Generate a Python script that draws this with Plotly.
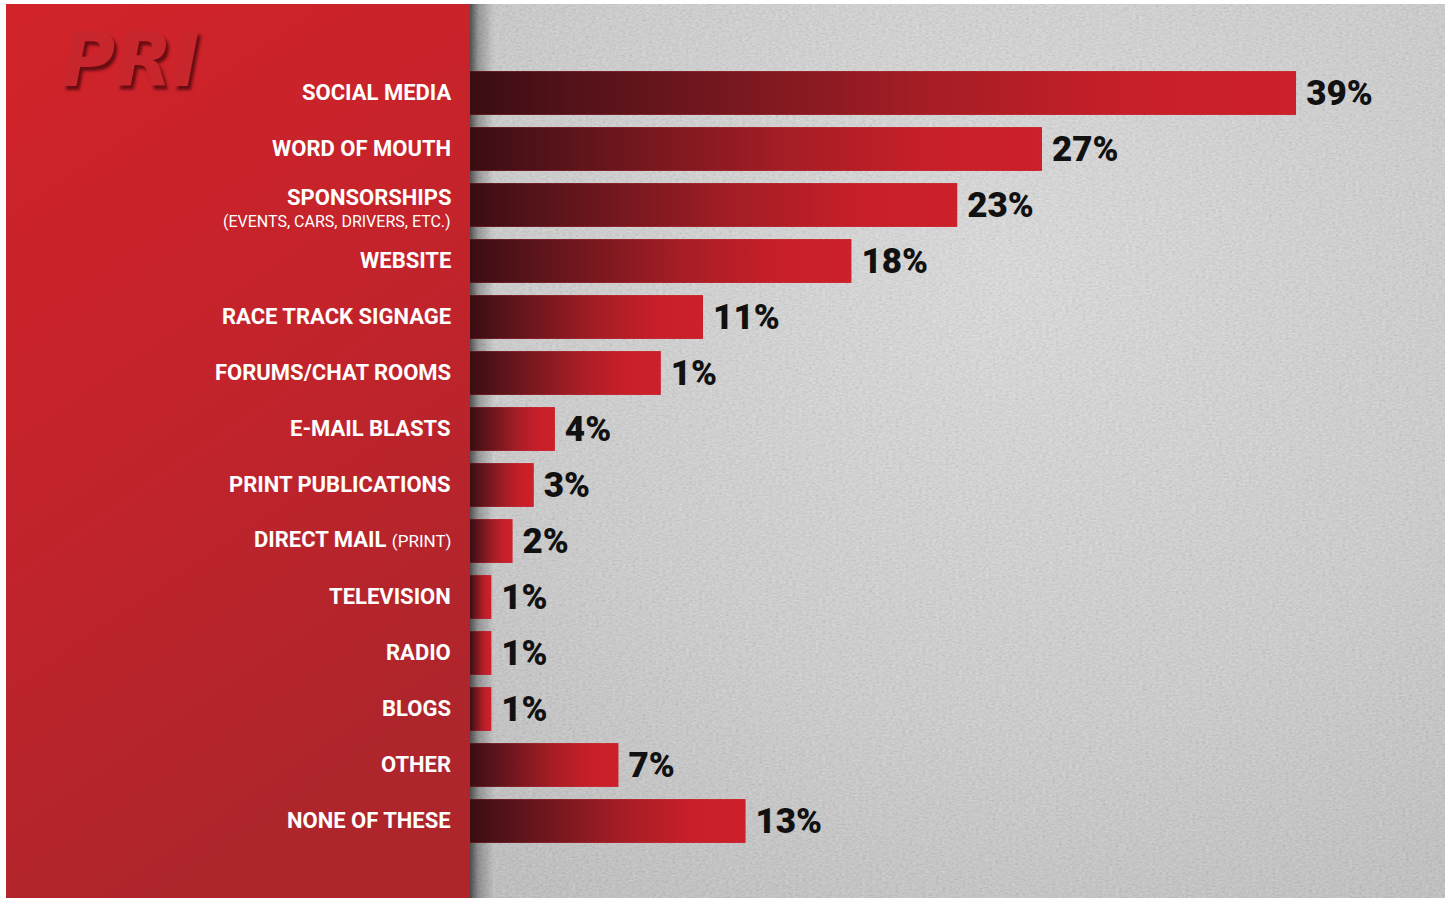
import base64
import plotly.graph_objects as go

# ---------------- data ----------------
categories = ["SOCIAL MEDIA", "WORD OF MOUTH", "SPONSORSHIPS", "WEBSITE",
              "RACE TRACK SIGNAGE", "FORUMS/CHAT ROOMS", "E-MAIL BLASTS",
              "PRINT PUBLICATIONS", "DIRECT MAIL", "TELEVISION", "RADIO",
              "BLOGS", "OTHER", "NONE OF THESE"]
sublabels = ["", "", "(EVENTS, CARS, DRIVERS, ETC.)", "", "", "", "", "", "(PRINT)",
             "", "", "", "", ""]
values = [39, 27, 23, 18, 11, 9, 4, 3, 2, 1, 1, 1, 7, 13]
value_labels = ["39%", "27%", "23%", "18%", "11%", "1%", "4%", "3%", "2%",
                "1%", "1%", "1%", "7%", "13%"]

# ---------------- styling ----------------
W, H = 1449, 900
L, R, T, B = 470, 4, 4, 2
plot_w = W - L - R
plot_h = H - T - B
px_per_unit = 21.18
xmax = plot_w / px_per_unit
step = 56.0
first_center = 93
last_center = 821
n = len(categories)
y_top = -(first_center - T) / step
y_bot = (n - 1) + (H - B - last_center) / step
bar_w = 0.78

FONT = "Roboto, Liberation Sans, sans-serif"
LABEL_SIZE = 22

positions = list(range(n))

svg = f"""<svg xmlns='http://www.w3.org/2000/svg' width='1439' height='894' viewBox='0 0 1439 894'>
<defs>
<linearGradient id='r' x1='0' y1='0' x2='0.35' y2='1'>
<stop offset='0' stop-color='#d2232a'/><stop offset='0.5' stop-color='#c4232b'/><stop offset='1' stop-color='#ae252c'/></linearGradient>
<radialGradient id='g' cx='0.55' cy='0.3' r='0.85'>
<stop offset='0' stop-color='#e0e0e0'/><stop offset='0.6' stop-color='#d0d0d0'/><stop offset='1' stop-color='#bfbfbf'/></radialGradient>
<linearGradient id='s' x1='0' x2='1' y1='0' y2='0'>
<stop offset='0' stop-color='#000' stop-opacity='0.6'/><stop offset='0.35' stop-color='#000' stop-opacity='0.25'/><stop offset='1' stop-color='#000' stop-opacity='0'/></linearGradient>
<filter id='n' x='0' y='0' width='100%' height='100%'>
<feTurbulence type='fractalNoise' baseFrequency='0.3 0.55' numOctaves='3' seed='7'/>
<feColorMatrix type='saturate' values='0'/>
<feComponentTransfer><feFuncA type='linear' slope='0' intercept='0.25'/></feComponentTransfer>
</filter>
</defs>
<rect x='464' y='0' width='975' height='894' fill='url(#g)'/>
<rect x='464' y='0' width='975' height='894' filter='url(#n)'/>
<rect x='0' y='0' width='464' height='894' fill='url(#r)'/>
<rect x='464' y='0' width='24' height='894' fill='url(#s)'/>
</svg>"""
bg_src = "data:image/svg+xml;base64," + base64.b64encode(svg.encode()).decode()

fig = go.Figure()

# base bars with value labels
fig.add_trace(go.Bar(
    x=values, y=positions, orientation="h", width=bar_w,
    marker=dict(color="#c91f29", line=dict(width=0)),
    text=["\u2009" + t for t in value_labels], textposition="outside",
    constraintext="none",
    textfont=dict(family=FONT, size=35, color="#111111", weight=900),
    cliponaxis=False, hoverinfo="skip", showlegend=False,
))

# gradient overlay for each bar (dark on the left, red on the right)
for v, p in zip(values, positions):
    fig.add_trace(go.Scatter(
        x=[0, v, v, 0, 0],
        y=[p - bar_w / 2, p - bar_w / 2, p + bar_w / 2, p + bar_w / 2, p - bar_w / 2],
        mode="lines", line=dict(width=0), fill="toself",
        fillgradient=dict(type="horizontal",
                          colorscale=[[0, "#3a0d12"], [0.15, "#57131a"],
                                      [0.55, "#a51d25"], [0.8, "#c71f29"],
                                      [1, "#cc202a"]]),
        hoverinfo="skip", showlegend=False,
    ))

annotations = []
for c, s, p in zip(categories, sublabels, positions):
    if s and c == "SPONSORSHIPS":
        annotations.append(dict(x=0, xref="paper", y=p, yref="y", xanchor="right",
                                yanchor="middle", xshift=-17, yshift=8, text=c,
                                showarrow=False,
                                font=dict(family=FONT, size=LABEL_SIZE, color="white", weight="bold")))
        annotations.append(dict(x=0, xref="paper", y=p, yref="y", xanchor="right",
                                yanchor="middle", xshift=-17, yshift=-16, text=s,
                                showarrow=False,
                                font=dict(family=FONT, size=16, color="white", weight="normal")))
    elif s:
        annotations.append(dict(x=0, xref="paper", y=p, yref="y", xanchor="right",
                                yanchor="middle", xshift=-17, yshift=2,
                                text=f"{c} <span style='font-size:17px;font-weight:normal'>{s}</span>",
                                showarrow=False,
                                font=dict(family=FONT, size=LABEL_SIZE, color="white", weight="bold")))
    else:
        annotations.append(dict(x=0, xref="paper", y=p, yref="y", xanchor="right",
                                yanchor="middle", xshift=-17, yshift=1, text=c,
                                showarrow=False,
                                font=dict(family=FONT, size=LABEL_SIZE, color="white", weight="bold")))

# PRI logo (text with embossed shadow)
logo_x = (130 - L) / plot_w
logo_y = 1 - (60 - T) / plot_h
annotations.append(dict(x=logo_x, xref="paper", y=logo_y, yref="paper",
                        xanchor="center", yanchor="middle",
                        text="<b><i>PRI</i></b>", showarrow=False,
                        font=dict(family="DejaVu Sans", size=74, color="#c8262d",
                                  shadow="3px 4px 3px rgba(70,5,10,0.75)")))

fig.update_layout(
    width=W, height=H,
    margin=dict(l=L, r=R, t=T, b=B, pad=0),
    paper_bgcolor="white", plot_bgcolor="rgba(0,0,0,0)",
    xaxis=dict(range=[0, xmax], visible=False, fixedrange=True),
    yaxis=dict(range=[y_bot, y_top], visible=False, fixedrange=True),
    bargap=0.22,
    annotations=annotations,
    images=[dict(source=bg_src, xref="paper", yref="paper",
                 x=(6 - L) / plot_w, y=1, sizex=1439 / plot_w, sizey=1,
                 xanchor="left", yanchor="top", sizing="stretch", layer="below")],
    showlegend=False,
)

fig.write_html("out.html")
